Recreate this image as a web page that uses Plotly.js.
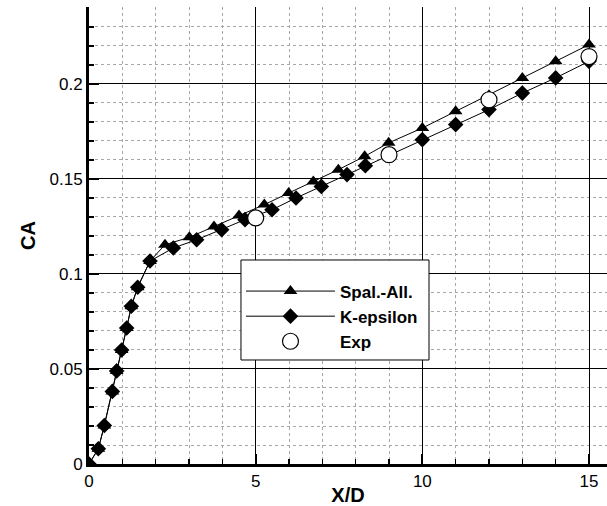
<!DOCTYPE html>
<html>
<head>
<meta charset="utf-8">
<script src="https://cdn.plot.ly/plotly-3.0.1.min.js"></script>
<style>
  html, body { margin: 0; padding: 0; background: #fff; }
  #chart { width: 607px; height: 506px; }
</style>
</head>
<body>
<div id="chart"></div>
<script>
// Axial force coefficient CA along the body, X/D stations

// Spalart-Allmaras computation
const spalX = [0, 0.28, 0.46, 0.70, 0.83, 0.98, 1.13, 1.27, 1.46, 1.83,
               2.28, 3.01, 3.75, 4.50, 5.26, 5.99, 6.73, 7.48, 8.27, 8.99,
               10, 11, 12, 13, 14, 15];
const spalY = [0, 0.008, 0.0203, 0.0382, 0.049, 0.060, 0.0716, 0.083, 0.093, 0.1068,
               0.1154, 0.1193, 0.125, 0.1308, 0.1365, 0.1426, 0.1487, 0.1549, 0.1619, 0.169,
               0.1768, 0.1856, 0.194, 0.2032, 0.2119, 0.2207];

// K-epsilon computation
const kepsX = [0, 0.28, 0.46, 0.70, 0.83, 0.98, 1.13, 1.27, 1.46, 1.83,
               2.53, 3.23, 3.98, 4.68, 5.49, 6.21, 6.97, 7.74, 8.29,
               10, 11, 12, 13, 14, 15];
const kepsY = [0, 0.008, 0.0203, 0.0382, 0.049, 0.060, 0.0716, 0.083, 0.093, 0.1068,
               0.1137, 0.118, 0.1233, 0.1286, 0.1338, 0.140, 0.1461, 0.1523, 0.157,
               0.1707, 0.1786, 0.1865, 0.1952, 0.2032, 0.2119];

// Experiment
const expX = [5, 9, 12, 15];
const expY = [0.1295, 0.1628, 0.1917, 0.2144];

const seriesNames = ['Spal.-All.', 'K-epsilon', 'Exp'];

const FONT = 'Liberation Sans, Arial, Helvetica, sans-serif';

const traces = [
  {
    x: spalX, y: spalY, name: seriesNames[0], type: 'scatter', mode: 'lines+markers',
    line: { color: '#000', width: 1 },
    marker: { symbol: 'triangle-up', size: 12, color: '#000' },
    legendgroup: 'a'
  },
  {
    x: kepsX, y: kepsY, name: seriesNames[1], type: 'scatter', mode: 'lines+markers',
    line: { color: '#000', width: 1 },
    marker: { symbol: 'diamond', size: 12, color: '#000' },
    legendgroup: 'b'
  },
  {
    x: expX, y: expY, name: seriesNames[2], type: 'scatter', mode: 'markers',
    marker: { symbol: 'circle', size: 16, color: '#fff', line: { color: '#000', width: 1.2 } },
    legendgroup: 'c'
  }
];

const layout = {
  width: 607, height: 506,
  margin: { l: 89, r: 0, t: 7, b: 42, pad: 0 },
  paper_bgcolor: '#fff', plot_bgcolor: '#fff',
  font: { family: FONT, size: 17, color: '#000' },
  showlegend: true,
  legend: {
    x: 0.2934, y: 0.4168, xanchor: 'left', yanchor: 'top',
    bgcolor: 'rgba(0,0,0,0)', borderwidth: 0,
    font: { family: FONT, size: 17, color: '#000', weight: 'bold' },
    itemwidth: 89, tracegroupgap: 4, traceorder: 'normal'
  },
  // legend frame
  shapes: [{
    type: 'rect', xref: 'paper', yref: 'paper', layer: 'above',
    x0: 0.2934, x1: 0.6564, y0: 0.2276, y1: 0.4464,
    fillcolor: '#fff', line: { color: '#000', width: 1 }
  }],
  xaxis: {
    range: [0, 15.54], dtick: 5, tick0: 0,
    showline: true, linewidth: 3, linecolor: '#000', mirror: false,
    ticks: 'inside', ticklen: 10, tickwidth: 2, tickcolor: '#000',
    showgrid: true, gridcolor: '#000', gridwidth: 1,
    zeroline: false,
    tickfont: { family: FONT, size: 17, color: '#000' },
    minor: { dtick: 1, ticks: 'inside', ticklen: 5, tickwidth: 1.5, tickcolor: '#000',
             showgrid: true, gridcolor: '#a8a8a8', gridwidth: 1, griddash: 'dot' },
    title: { text: '<b>X/D</b>', font: { family: FONT, size: 20, color: '#000' }, standoff: 4 }
  },
  yaxis: {
    range: [0, 0.2405], dtick: 0.05, tick0: 0,
    showline: true, linewidth: 3, linecolor: '#000', mirror: false,
    ticks: 'inside', ticklen: 10, tickwidth: 2, tickcolor: '#000',
    showgrid: true, gridcolor: '#000', gridwidth: 1,
    zeroline: false,
    tickfont: { family: FONT, size: 17, color: '#000' },
    minor: { dtick: 0.01, ticks: 'inside', ticklen: 5, tickwidth: 1.5, tickcolor: '#000',
             showgrid: true, gridcolor: '#a8a8a8', gridwidth: 1, griddash: 'dot' },
    title: { text: '<b>CA</b>', font: { family: FONT, size: 20, color: '#000' }, standoff: 9 }
  }
};

Plotly.newPlot('chart', traces, layout, { staticPlot: true, displayModeBar: false });
</script>
</body>
</html>
